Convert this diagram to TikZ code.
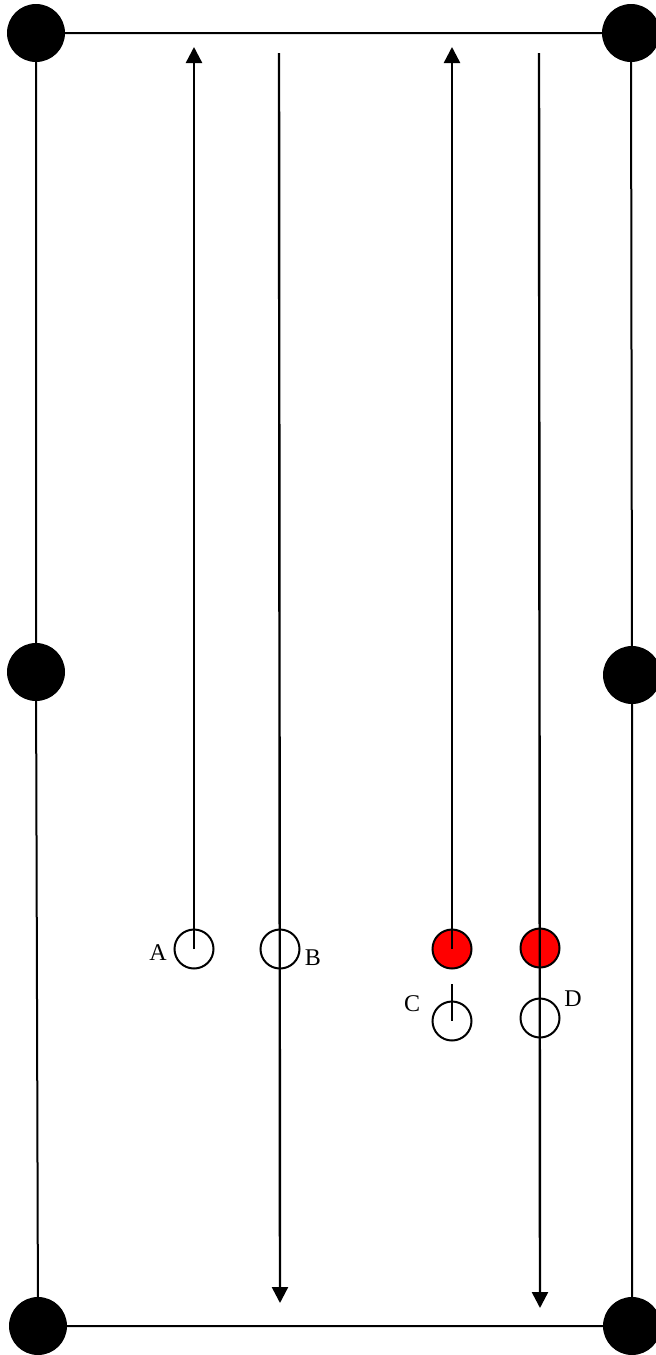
\documentclass[tikz,border=0pt]{standalone}
\usepackage{fontspec}
\setmainfont{Liberation Serif}
\usetikzlibrary{arrows.meta}
\begin{document}
\begin{tikzpicture}[x=1pt,y=-1pt,
  corner/.style={circle,fill=black,inner sep=0pt,minimum size=58pt},
  ball/.style={circle,draw=black,line width=2pt,inner sep=0pt,minimum size=39pt},
  redball/.style={ball,fill=red},
  edge/.style={line width=2pt},
  run/.style={line width=2.4pt,-{Triangle[length=16pt,width=16pt]}},
  lbl/.style={font=\fontsize{24}{26}\selectfont,inner sep=0pt}]
\useasboundingbox (0,0) rectangle (656,1355);
% table frame
\coordinate (tl) at (36,33);
\coordinate (tr) at (631,33);
\coordinate (ml) at (36,672);
\coordinate (mr) at (632,675);
\coordinate (bl) at (38,1326);
\coordinate (br) at (632,1326);
\draw[edge] (tl) -- (tr) -- (mr) -- (br) -- (bl) -- (ml) -- cycle;
\node[corner] (ctl) at (tl) {};
\node[corner] (ctr) at (tr) {};
\node[corner] (cml) at (ml) {};
\node[corner] (cmr) at (mr) {};
\node[corner] (cbl) at (bl) {};
\node[corner] (cbr) at (br) {};
% balls
\node[ball] (a) at (194,949) {};
\node[ball] (b) at (280,949) {};
\node[redball] (rc) at (452,949) {};
\node[redball] (rd) at (540,948) {};
\node[ball] (c) at (452,1021) {};
\node[ball] (d) at (540,1018) {};
% arrow endpoints
\coordinate (atop) at (194,47);
\coordinate (btop) at (279,53);
\coordinate (bbot) at (280,1303);
\coordinate (ctop) at (452,47);
\coordinate (dtop) at (539,53);
\coordinate (dbot) at (540,1308);
\coordinate (cs) at (452,984);
\draw[run] (a.center) -- (atop);
\draw[run] (btop) -- (bbot);
\draw[run] (rc.center) -- (ctop);
\draw[run] (dtop) -- (dbot);
\draw[line width=2pt] (cs) -- (c.center);
% labels
\node[lbl] (la) at (158,953) {A};
\node[lbl] (lb) at (313,958) {B};
\node[lbl] (lc) at (412,1004) {C};
\node[lbl] (ld) at (573,999) {D};
\end{tikzpicture}
\end{document}
